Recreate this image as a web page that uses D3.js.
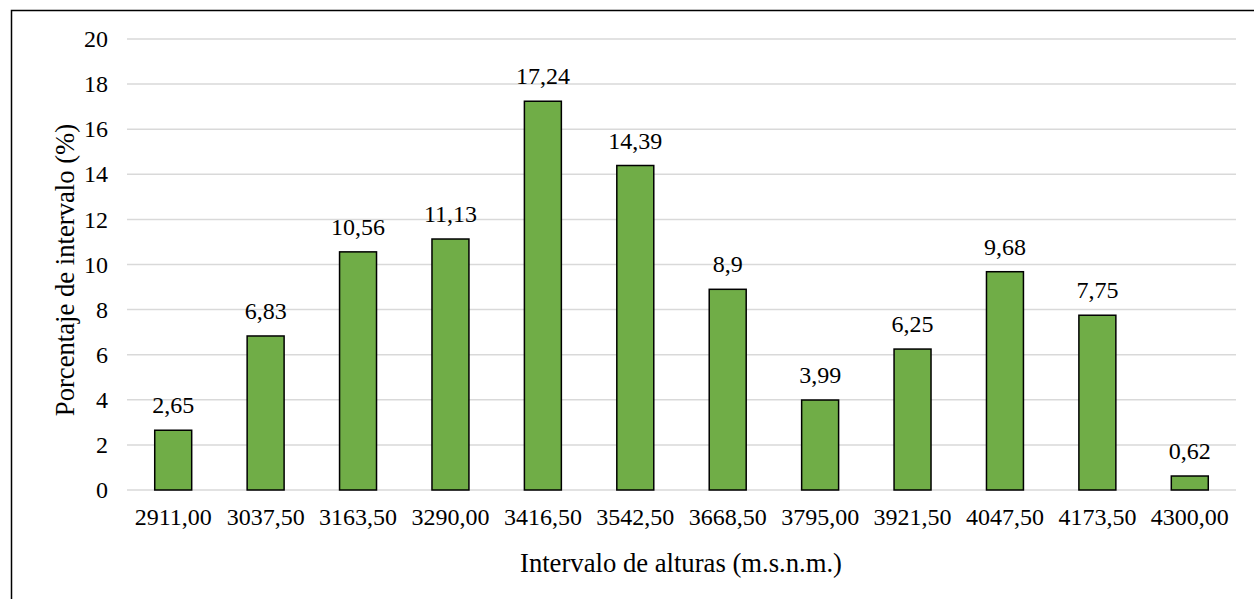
<!DOCTYPE html>
<html><head><meta charset="utf-8">
<script src="https://cdn.jsdelivr.net/npm/d3@7"></script>
</head><body style="margin:0;background:#fff">
<svg id="c" width="1254" height="599"></svg>
<script>
const categories = ["2911,00","3037,50","3163,50","3290,00","3416,50","3542,50","3668,50","3795,00","3921,50","4047,50","4173,50","4300,00"];
const values = [2.65,6.83,10.56,11.13,17.24,14.39,8.9,3.99,6.25,9.68,7.75,0.62];
const labels = ["2,65","6,83","10,56","11,13","17,24","14,39","8,9","3,99","6,25","9,68","7,75","0,62"];
const yTicks = [0,2,4,6,8,10,12,14,16,18,20];

const svg = d3.select("#c");
svg.append("rect").attr("x",0).attr("y",0).attr("width",1254).attr("height",599).attr("fill","#fff");
svg.append("path").attr("d","M11.5,599 V10.5 H1254").attr("fill","none").attr("stroke","#000").attr("stroke-width",1.5);

const m = {l:127, r:1236, t:39, b:490};
const x = d3.scaleBand().domain(categories).range([m.l,m.r]).paddingInner(0.6).paddingOuter(0.3);
const y = d3.scaleLinear().domain([0,20]).range([m.b,m.t]);

svg.append("g").selectAll("line").data(yTicks).join("line")
  .attr("x1",m.l).attr("x2",m.r).attr("y1",d=>y(d)).attr("y2",d=>y(d))
  .attr("stroke","#d9d9d9").attr("stroke-width",1.5);

function serif(sel, size){ sel.attr("font-family","Liberation Serif").attr("font-size",size||24).attr("fill","#000"); }

const yAxis = svg.append("g").attr("transform",`translate(${m.l},0)`)
  .call(d3.axisLeft(y).tickValues(yTicks).tickSize(0).tickPadding(19).tickFormat(d3.format("d")));
yAxis.attr("font-family",null).attr("font-size",null);
yAxis.select(".domain").remove();
yAxis.selectAll("text").call(serif);

const xAxis = svg.append("g").attr("transform",`translate(0,${m.b})`)
  .call(d3.axisBottom(x).tickSize(0).tickPadding(18));
xAxis.attr("font-family",null).attr("font-size",null);
xAxis.select(".domain").remove();
xAxis.selectAll("text").call(serif);

svg.selectAll("rect.bar").data(values).join("rect").attr("class","bar")
  .attr("x",(d,i)=>x(categories[i])).attr("width",x.bandwidth())
  .attr("y",d=>y(d)).attr("height",d=>y(0)-y(d))
  .attr("fill","#70ad47").attr("stroke","#000").attr("stroke-width",1.5);

svg.selectAll("text.lbl").data(values).join("text").attr("class","lbl")
  .attr("x",(d,i)=>x(categories[i])+x.bandwidth()/2).attr("y",d=>y(d)-17)
  .attr("text-anchor","middle").text((d,i)=>labels[i]).call(serif);

svg.append("text").attr("x",681).attr("y",572).attr("text-anchor","middle").text("Intervalo de alturas (m.s.n.m.)").call(serif, 26.67);
svg.append("text").attr("transform","translate(74,270) rotate(-90)").attr("text-anchor","middle").text("Porcentaje de intervalo (%)").call(serif, 26.67);
</script>
</body></html>
